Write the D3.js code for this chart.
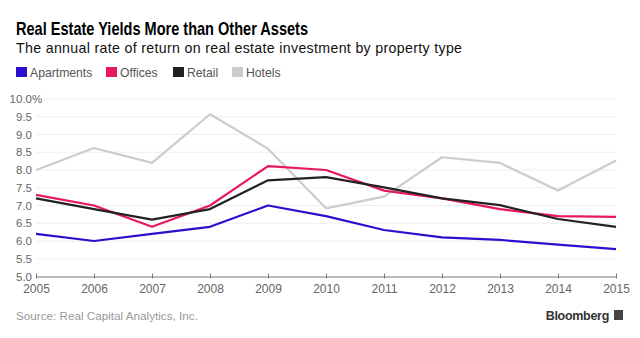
<!DOCTYPE html>
<html>
<head>
<meta charset="utf-8">
<title>Real estate yields</title>
<style>
  body { margin: 0; background: #fff; }
  text { font-family: "Liberation Sans", Arial, sans-serif; }
</style>
</head>
<body>
<script src="https://cdn.jsdelivr.net/npm/d3@7"></script>
<script>
var years = [2005, 2006, 2007, 2008, 2009, 2010, 2011, 2012, 2013, 2014, 2015];
var apartments = [6.2, 6.0, 6.2, 6.4, 7.0, 6.7, 6.31, 6.1, 6.03, 5.9, 5.77];
var offices    = [7.3, 7.0, 6.4, 7.0, 8.11, 8.0, 7.42, 7.2, 6.9, 6.7, 6.68];
var retail     = [7.2, 6.9, 6.6, 6.9, 7.71, 7.8, 7.51, 7.2, 7.01, 6.62, 6.4];
var hotels     = [8.0, 8.62, 8.2, 9.57, 8.6, 6.92, 7.25, 8.36, 8.2, 7.42, 8.27];
var yTicks = [5.0, 5.5, 6.0, 6.5, 7.0, 7.5, 8.0, 8.5, 9.0, 9.5, 10.0];

var seriesNames = ["Apartments", "Offices", "Retail", "Hotels"];
var seriesColors = ["#2a0fce", "#e8195a", "#222222", "#cccccc"];
var seriesData = [apartments, offices, retail, hotels];

var width = 640, height = 338;
var svg = d3.select("body").append("svg")
    .attr("width", width)
    .attr("height", height);

var x = d3.scaleLinear().domain([2005, 2015]).range([36, 616]);
var y = d3.scaleLinear().domain([5, 10]).range([276.5, 99]);

// title (Bloomberg's face is narrow, squeeze to match)
svg.append("text")
    .attr("x", 16).attr("y", 35)
    .attr("font-size", 18.5).attr("font-weight", "bold")
    .attr("textLength", 292)
    .attr("lengthAdjust", "spacingAndGlyphs")
    .attr("fill", "#000")
    .text("Real Estate Yields More than Other Assets");
svg.append("text")
    .attr("x", 16).attr("y", 53)
    .attr("font-size", 14.2)
    .attr("textLength", 446)
    .attr("lengthAdjust", "spacing")
    .attr("fill", "#111")
    .text("The annual rate of return on real estate investment by property type");

// legend
var legendX = [16, 106, 173, 232];
var legend = svg.selectAll(".legend")
    .data(seriesNames)
    .enter().append("g")
    .attr("transform", function(d, i) { return "translate(" + legendX[i] + ",0)"; });
legend.append("rect")
    .attr("x", 0).attr("y", 67).attr("width", 11).attr("height", 10)
    .attr("fill", function(d, i) { return seriesColors[i]; });
legend.append("text")
    .attr("x", 14).attr("y", 76.5)
    .attr("font-size", 12.2).attr("fill", "#555")
    .text(function(d) { return d; });

// gridlines
svg.selectAll(".grid")
    .data(yTicks.slice(1))
    .enter().append("line")
    .attr("x1", function(d) { return d === 10 ? 43 : 36; })
    .attr("x2", 616)
    .attr("y1", function(d) { return y(d); })
    .attr("y2", function(d) { return y(d); })
    .attr("stroke", "#eeeeee")
    .attr("stroke-width", 1);

// y labels
svg.selectAll(".ylab")
    .data(yTicks)
    .enter().append("text")
    .attr("x", 32)
    .attr("y", function(d) { return y(d) + 4; })
    .attr("text-anchor", "end")
    .attr("font-size", 11.5)
    .attr("fill", "#666")
    .text(function(d) { return d3.format(".1f")(d); });
svg.append("text")
    .attr("x", 32).attr("y", y(10) + 4)
    .attr("font-size", 11.5).attr("fill", "#666")
    .text("%");

// x axis
var xAxis = d3.axisBottom(x)
    .tickValues(years)
    .tickFormat(d3.format("d"))
    .tickSize(3)
    .tickSizeOuter(0);
var gx = svg.append("g")
    .attr("transform", "translate(0," + y(5) + ")")
    .call(xAxis);
gx.select(".domain").attr("stroke", "#777");
gx.selectAll(".tick line").attr("stroke", "#777").attr("y1", -3).attr("y2", 2);
gx.selectAll(".tick text")
    .attr("y", 8)
    .attr("font-size", 12)
    .attr("font-family", "Liberation Sans, Arial, sans-serif")
    .attr("fill", "#666");

// lines (hotels first so they sit under the others)
var line = d3.line()
    .x(function(d, i) { return x(years[i]); })
    .y(function(d) { return y(d); });
[3, 0, 1, 2].forEach(function(k) {
    svg.append("path")
        .datum(seriesData[k])
        .attr("d", line)
        .attr("fill", "none")
        .attr("stroke", seriesColors[k])
        .attr("stroke-width", 2.2)
        .attr("stroke-linejoin", "round");
});

// footer
svg.append("text")
    .attr("x", 16).attr("y", 320)
    .attr("font-size", 11.7).attr("fill", "#999")
    .text("Source: Real Capital Analytics, Inc.");
svg.append("text")
    .attr("x", 609).attr("y", 320)
    .attr("text-anchor", "end")
    .attr("font-size", 12.5).attr("font-weight", "bold")
    .attr("letter-spacing", -0.3)
    .attr("fill", "#333")
    .text("Bloomberg");
svg.append("rect")
    .attr("x", 614).attr("y", 310).attr("width", 9).attr("height", 10)
    .attr("fill", "#444");
</script>
</body>
</html>
